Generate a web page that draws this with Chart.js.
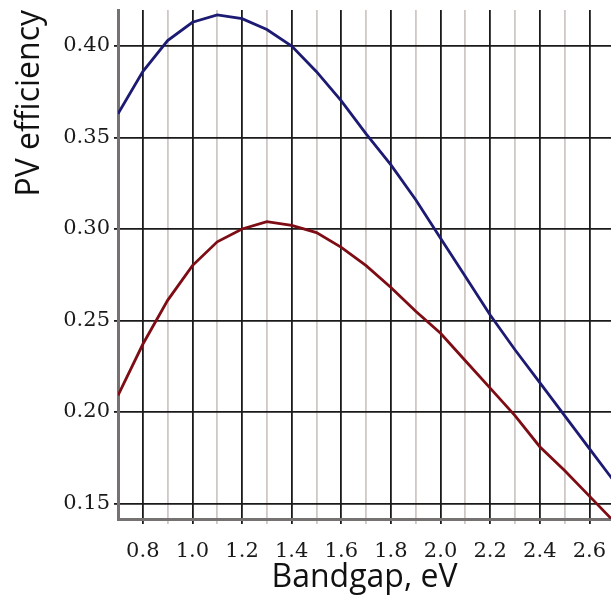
<!DOCTYPE html>
<html>
<head>
<meta charset="utf-8">
<script src="https://cdn.jsdelivr.net/npm/chart.js@4/dist/chart.umd.min.js"></script>
<style>
  html, body { margin: 0; padding: 0; background: #fff; }
  #wrap { width: 611px; height: 597px; }
</style>
</head>
<body>
<div id="wrap"><canvas id="pvChart" width="611" height="597"></canvas></div>
<script>
// Bandgap in eV (x), efficiency values
const bandgap = [0.7, 0.8, 0.9, 1.0, 1.1, 1.2, 1.3, 1.4, 1.5, 1.6, 1.7, 1.8, 1.9, 2.0, 2.1, 2.2, 2.3, 2.4, 2.5, 2.6, 2.7];
const upperEff = [0.363, 0.386, 0.403, 0.413, 0.417, 0.415, 0.409, 0.400, 0.386, 0.370, 0.352, 0.335, 0.316, 0.295, 0.274, 0.253, 0.234, 0.216, 0.198, 0.180, 0.162];
const lowerEff = [0.209, 0.237, 0.261, 0.280, 0.293, 0.300, 0.304, 0.302, 0.298, 0.290, 0.280, 0.268, 0.255, 0.243, 0.228, 0.213, 0.198, 0.181, 0.168, 0.154, 0.140];

const xTickValues = [0.8, 0.9, 1.0, 1.1, 1.2, 1.3, 1.4, 1.5, 1.6, 1.7, 1.8, 1.9, 2.0, 2.1, 2.2, 2.3, 2.4, 2.5, 2.6];
const yTickValues = [0.15, 0.20, 0.25, 0.30, 0.35, 0.40];

const tickFont = { family: '"DejaVu Serif", "Liberation Serif", serif', size: 21 };
const titleFont = { family: '"Open Sans", "Noto Sans", sans-serif', size: 32 };

// even tenths get dark lines + labels, odd tenths light grey lines
const isMajor = v => Math.round(v * 10) % 2 === 0;

const toPoints = ys => bandgap.map((x, i) => ({ x: x, y: ys[i] }));

new Chart(document.getElementById('pvChart'), {
    type: 'line',
    data: {
        datasets: [
            { data: toPoints(upperEff), borderColor: '#1c1a72', borderWidth: 2.8, pointRadius: 0, tension: 0, fill: false },
            { data: toPoints(lowerEff), borderColor: '#7e0c14', borderWidth: 2.8, pointRadius: 0, tension: 0, fill: false }
        ]
    },
    options: {
        responsive: false,
        animation: false,
        layout: { padding: { top: 10, right: 0, left: 0, bottom: 0 } },
        plugins: { legend: { display: false }, tooltip: { enabled: false } },
        scales: {
            x: {
                type: 'linear',
                min: 0.7,
                max: 2.687,
                afterBuildTicks: scale => { scale.ticks = xTickValues.map(v => ({ value: v })); },
                afterFit: scale => {
                    scale.height = 78;
                    scale.paddingLeft = 0;
                    scale.paddingRight = 0;
                },
                ticks: {
                    autoSkip: false,
                    maxRotation: 0,
                    padding: 15,
                    color: '#1a1a1a',
                    font: tickFont,
                    callback: v => isMajor(v) ? v.toFixed(1) : ''
                },
                grid: {
                    color: ctx => (ctx.tick && isMajor(ctx.tick.value)) ? '#1a1a1a' : '#cfc8c4',
                    lineWidth: 1.8,
                    tickLength: 5
                },
                border: { display: true, color: '#767272', width: 3 },
                title: { display: true, text: 'Bandgap, eV', color: '#111', font: titleFont, padding: { top: 0, bottom: 0 } }
            },
            y: {
                type: 'linear',
                min: 0.1415,
                max: 0.4197,
                afterBuildTicks: scale => { scale.ticks = yTickValues.map(v => ({ value: v })); },
                afterFit: scale => {
                    scale.width = 118;
                    scale.paddingTop = 0;
                    scale.paddingBottom = 0;
                },
                ticks: {
                    padding: 4,
                    color: '#1a1a1a',
                    font: tickFont,
                    callback: v => v.toFixed(2)
                },
                grid: { color: '#1a1a1a', lineWidth: 1.8, tickLength: 4 },
                border: { display: true, color: '#767272', width: 3 },
                title: { display: true, text: 'PV efficiency', align: 'end', color: '#111', font: titleFont, padding: { top: 11, bottom: 0 } }
            }
        }
    }
});
</script>
</body>
</html>
